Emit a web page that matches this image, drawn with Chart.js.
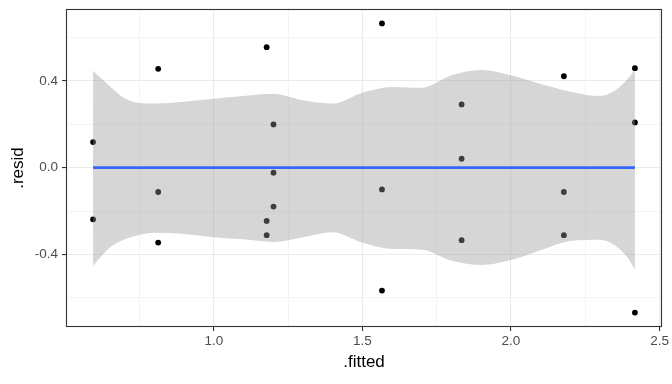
<!DOCTYPE html>
<html>
<head>
<meta charset="utf-8">
<script src="https://cdn.jsdelivr.net/npm/chart.js@4"></script>
<style>
  html, body { margin: 0; padding: 0; background: #fff; }
  #wrap { width: 672px; height: 384px; }
</style>
</head>
<body>
<div id="wrap"><canvas id="resid"></canvas></div>
<script>
// residuals vs fitted values
const fitted = [0.594, 0.594, 0.813, 0.813, 0.813, 1.178, 1.178, 1.178, 1.201, 1.201, 1.201,
                1.566, 1.566, 1.566, 1.834, 1.834, 1.834, 2.178, 2.178, 2.178, 2.417, 2.417, 2.417];
const resid = [0.118, -0.238, 0.455, -0.112, -0.345, 0.555, -0.245, -0.311, 0.199, -0.023, -0.179,
               0.664, -0.100, -0.566, 0.291, 0.041, -0.334, 0.421, -0.112, -0.311, 0.458, 0.208, -0.667];

// loess fit and its confidence band
const bandX = [0.594, 0.65, 0.70, 0.75, 0.80, 0.90, 1.0, 1.1, 1.2, 1.3, 1.4, 1.5, 1.6, 1.7,
               1.8, 1.9, 2.0, 2.1, 2.2, 2.3, 2.35, 2.39, 2.417];
const bandUpper = [0.446, 0.375, 0.320, 0.298, 0.295, 0.303, 0.317, 0.330, 0.340, 0.310, 0.295, 0.345,
                   0.372, 0.368, 0.425, 0.450, 0.425, 0.385, 0.350, 0.330, 0.355, 0.405, 0.451];
const bandLower = [-0.451, -0.369, -0.330, -0.310, -0.300, -0.305, -0.320, -0.330, -0.342, -0.320, -0.297, -0.345,
                   -0.375, -0.378, -0.428, -0.448, -0.425, -0.380, -0.338, -0.332, -0.358, -0.410, -0.469];
const fitX = [0.594, 2.417];
const fitY = [0, 0];

// grid / tick values
const xTicks = [0.75, 1.0, 1.25, 1.5, 1.75, 2.0, 2.25, 2.5];
const xLabels = [1.0, 1.5, 2.0, 2.5];
const yTicks = [-0.6, -0.4, -0.2, 0, 0.2, 0.4, 0.6];
const yLabels = [-0.4, 0, 0.4];

const isMajor = (list, v) => list.some(m => Math.abs(m - v) < 1e-9);
const pts = (xs, ys) => xs.map((x, i) => ({ x: x, y: ys[i] }));

// ggplot style expansion (5% each side)
const xMin = Math.min(...fitted), xMax = Math.max(...fitted);
const yMin = Math.min(...resid), yMax = Math.max(...resid);
const xPad = (xMax - xMin) * 0.05, yPad = (yMax - yMin) * 0.05;

const labelFont = { family: 'Liberation Sans', size: 13.5 };
const titleFont = { family: 'Liberation Sans', size: 17 };

// panel border on all four sides
const panelBorder = {
    id: 'panelBorder',
    afterDatasetsDraw(chart) {
        const a = chart.chartArea, c = chart.ctx;
        c.save();
        c.strokeStyle = '#333333';
        c.lineWidth = 1.1;
        c.strokeRect(a.left + 0.5, a.top + 0.5, a.right - a.left - 1, a.bottom - a.top - 1);
        c.restore();
    }
};

function axis(ticks, labels, min, max, title, titlePad, fitSize, horizontal) {
    return {
        type: 'linear',
        min: min,
        max: max,
        afterBuildTicks: s => { s.ticks = ticks.map(v => ({ value: v })); },
        afterFit: s => {
            if (horizontal) { s.height = fitSize; s.paddingLeft = 0; s.paddingRight = 0; }
            else { s.width = fitSize; s.paddingTop = 0; s.paddingBottom = 0; }
        },
        border: { display: false },
        grid: {
            color: '#EBEBEB',
            lineWidth: ctx => isMajor(labels, ctx.tick.value) ? 1.1 : 0.55,
            tickColor: ctx => isMajor(labels, ctx.tick.value) ? '#333333' : 'rgba(0,0,0,0)',
            tickLength: 4,
            tickWidth: 1.1
        },
        ticks: {
            autoSkip: false,
            maxRotation: 0,
            padding: horizontal ? 2 : 4,
            color: '#4D4D4D',
            font: labelFont,
            callback: v => isMajor(labels, v) ? v.toFixed(1) : ''
        },
        title: {
            display: true,
            text: title,
            color: '#000000',
            font: titleFont,
            padding: titlePad
        }
    };
}

const chart = new Chart(document.getElementById('resid').getContext('2d'), {
    type: 'scatter',
    data: {
        datasets: [
            {
                type: 'line',
                data: pts(fitX, fitY),
                borderColor: '#3366FF',
                borderWidth: 2.6,
                pointRadius: 0,
                fill: false,
                order: 0
            },
            {
                type: 'line',
                data: pts(bandX, bandUpper),
                borderWidth: 0,
                borderColor: 'rgba(0,0,0,0)',
                backgroundColor: 'rgba(153,153,153,0.4)',
                pointRadius: 0,
                cubicInterpolationMode: 'monotone',
                fill: '+1',
                order: 1
            },
            {
                type: 'line',
                data: pts(bandX, bandLower),
                borderWidth: 0,
                borderColor: 'rgba(0,0,0,0)',
                pointRadius: 0,
                cubicInterpolationMode: 'monotone',
                fill: false,
                order: 2
            },
            {
                data: pts(fitted, resid),
                backgroundColor: '#000000',
                borderWidth: 0,
                pointRadius: 2.9,
                order: 3
            }
        ]
    },
    options: {
        responsive: true,
        maintainAspectRatio: false,
        animation: false,
        layout: { padding: { left: 0, top: 9, right: 10, bottom: 0 } },
        plugins: {
            legend: { display: false },
            tooltip: { enabled: false }
        },
        scales: {
            x: axis(xTicks, xLabels, xMin - xPad, xMax + xPad, '.fitted', { bottom: 11 }, 57, true),
            y: axis(yTicks, yLabels, yMin - yPad, yMax + yPad, '.resid', { top: 8.5 }, 66, false)
        }
    },
    plugins: [panelBorder]
});
</script>
</body>
</html>
